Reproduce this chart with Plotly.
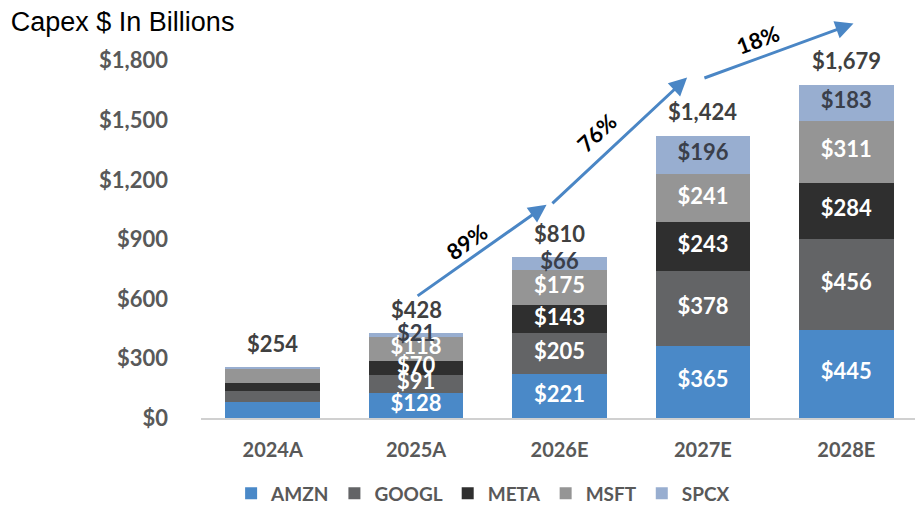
import plotly.graph_objects as go

years = ['2024A', '2025A', '2026E', '2027E', '2028E']
amzn = [83, 128, 221, 365, 445]
googl = [53, 91, 205, 378, 456]
meta = [39, 70, 143, 243, 284]
msft = [76, 118, 175, 241, 311]
spcx = [3, 21, 66, 196, 183]
totals = [254, 428, 810, 1424, 1679]
growth = ['89%', '76%', '18%']

series = [
    ('AMZN', amzn, '#4a89c8', 'white'),
    ('GOOGL', googl, '#636466', 'white'),
    ('META', meta, '#2f2f2f', 'white'),
    ('MSFT', msft, '#959595', 'white'),
    ('SPCX', spcx, '#98aed0', '#3a3f4a'),
]

FONT = 'Lato'
GRAY = '#595959'

fig = go.Figure()

# stacked bars
for name, vals, color, _ in series:
    fig.add_trace(go.Bar(x=years, y=vals, name='<b>%s</b>' % name,
                         marker_color=color, marker_line_width=0))

# segment labels (skip the first year, the reference has none there)
base = [0] * len(years)
for name, vals, color, tcolor in series:
    mids = [b + v / 2 for b, v in zip(base, vals)]
    labels = ['' if i == 0 else '<b>$%d</b>' % v for i, v in enumerate(vals)]
    fig.add_trace(go.Scatter(x=years, y=mids, text=labels, mode='text',
                             textfont=dict(family=FONT, size=22, color=tcolor),
                             showlegend=False, hoverinfo='skip'))
    base = [b + v for b, v in zip(base, vals)]

# totals above bars
for yr, t in zip(years, totals):
    fig.add_annotation(x=yr, y=t, text='<b>${:,}</b>'.format(t), showarrow=False,
                       yanchor='middle', yshift=24,
                       font=dict(family=FONT, size=22, color='#404040'))

# growth arrows: (tail x, tail y, tip x, tip y)
arrows = [(1.0, 610, 1.91, 1074), (1.94, 1074, 2.89, 1715), (3.0, 1710, 4.05, 1987)]
pct_pos = [(1.355, 888, -35), (2.26, 1437, -43), (3.383, 1906, -20)]
for (x0, y0, x1, y1), (px, py, ang), g in zip(arrows, pct_pos, growth):
    fig.add_annotation(x=x1, y=y1, ax=x0, ay=y0, axref='x', ayref='y',
                       xref='x', yref='y', text='', showarrow=True,
                       arrowhead=2, arrowsize=1.2, arrowwidth=3,
                       arrowcolor='#4a86c5', standoff=0, startstandoff=0)
    fig.add_annotation(x=px, y=py, text='<b>%s</b>' % g, showarrow=False,
                       textangle=ang,
                       font=dict(family=FONT, size=22, color='black'))

# page body adds an 8px offset, margins compensate for it
fig.update_layout(
    width=923, height=519,
    margin=dict(l=193, r=13, t=13, b=109, autoexpand=False),
    paper_bgcolor='white', plot_bgcolor='white',
    barmode='stack', bargap=0.34,
    title=dict(text='Capex $ In Billions', x=0.003, xanchor='left',
               y=0.973, yanchor='middle',
               font=dict(family='Liberation Sans, Arial', size=27, color='black')),
    legend=dict(orientation='h', x=0.042, xanchor='left', y=-0.19,
                yanchor='middle', traceorder='normal',
                font=dict(family=FONT, size=19, color=GRAY)),
    showlegend=True,
)
fig.update_xaxes(showline=True, linecolor='#d0d0d0', linewidth=2,
                 showgrid=False, ticks='', ticklabelstandoff=13,
                 tickprefix='<b>', ticksuffix='</b>',
                 tickfont=dict(family=FONT, size=20, color=GRAY),
                 range=[-0.5, 4.5])
fig.update_yaxes(range=[0, 2000], tickvals=[0, 300, 600, 900, 1200, 1500, 1800],
                 ticktext=['<b>$0</b>', '<b>$300</b>', '<b>$600</b>', '<b>$900</b>',
                           '<b>$1,200</b>', '<b>$1,500</b>', '<b>$1,800</b>'],
                 showgrid=False, zeroline=False, showline=False,
                 ticklabelstandoff=32,
                 tickfont=dict(family=FONT, size=22, color=GRAY))

fig.write_html('out.html')
